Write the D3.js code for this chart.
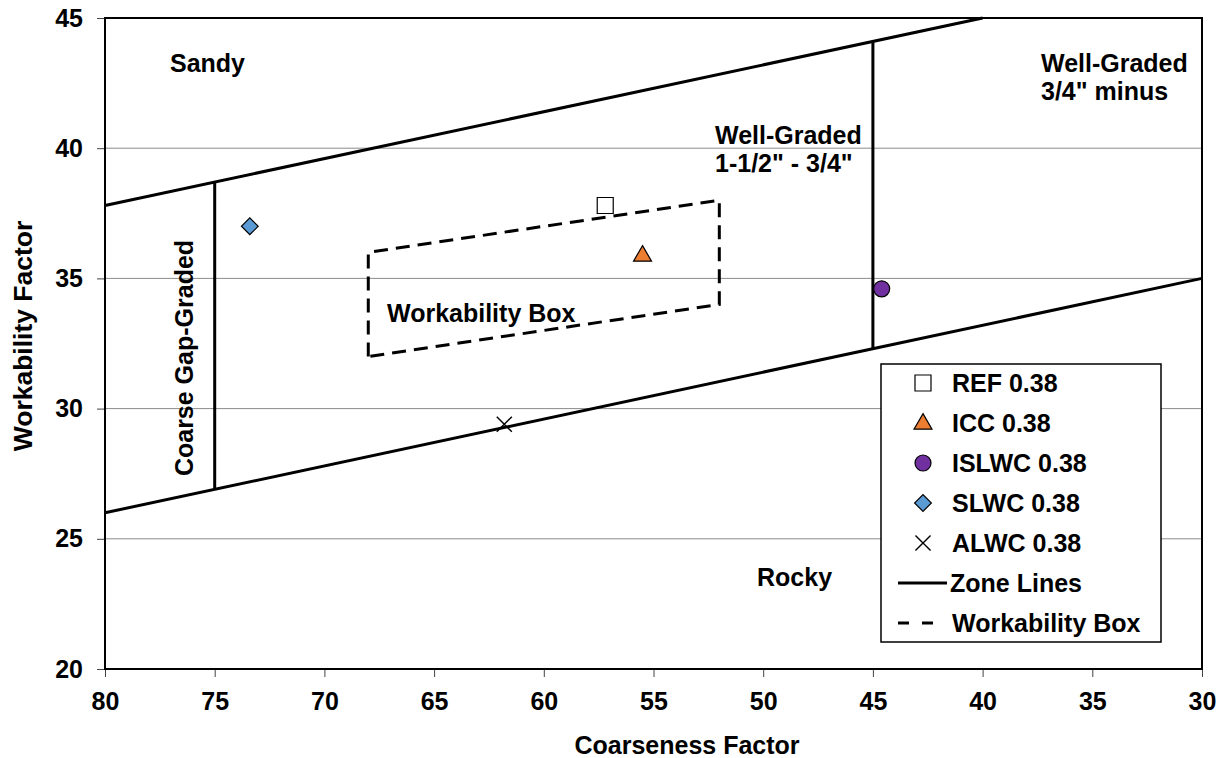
<!DOCTYPE html>
<html>
<head>
<meta charset="utf-8">
<script src="https://cdn.jsdelivr.net/npm/d3@7"></script>
<style>
  html, body { margin: 0; padding: 0; background: #fff; }
  svg text { font-family: "Liberation Sans", Arial, sans-serif; font-weight: bold; fill: #000; }
</style>
</head>
<body>
<svg id="chart" width="1222" height="758"></svg>
<script>
// Mixture points: coarseness factor (x) and workability factor (y)
const seriesNames = ["REF 0.38", "ICC 0.38", "ISLWC 0.38", "SLWC 0.38", "ALWC 0.38"];
const coarseness = [57.2, 55.5, 44.6, 73.4, 61.8];
const workability = [37.8, 35.9, 34.6, 37.0, 29.4];
const symbolKinds = ["square", "triangle", "circle", "diamond", "cross"];
const fills = ["#ffffff", "#ED7D31", "#7030A0", "#5B9BD5", "none"];

// Zone boundary lines
const upperZone = [[80, 37.8], [40, 45]];
const lowerZone = [[80, 26], [30, 35]];
const gapGradedLine = [[75, 26.9], [75, 38.7]];
const wellGradedLine = [[45, 32.3], [45, 44.1]];

// Workability box corners
const workBox = [[68, 32], [68, 36], [52, 38], [52, 34], [68, 32]];

const xTicks = [80, 75, 70, 65, 60, 55, 50, 45, 40, 35, 30];
const yTicks = [20, 25, 30, 35, 40, 45];
const gridValues = [25, 30, 35, 40];

const svg = d3.select("#chart");
const L = 105, T = 18, W = 1097, H = 651;

const x = d3.scaleLinear().domain([80, 30]).range([L, L + W]);
const y = d3.scaleLinear().domain([20, 45]).range([T + H, T]);

// Horizontal gridlines
svg.append("g").selectAll("line").data(gridValues).join("line")
  .attr("x1", L).attr("x2", L + W)
  .attr("y1", d => y(d)).attr("y2", d => y(d))
  .attr("stroke", "#8c8c8c").attr("stroke-width", 1);

// Axes
const xAxis = svg.append("g").attr("transform", `translate(0,${T + H})`)
  .call(d3.axisBottom(x).tickValues(xTicks).tickSize(8).tickPadding(14).tickFormat(d3.format("d")));
const yAxis = svg.append("g").attr("transform", `translate(${L},0)`)
  .call(d3.axisLeft(y).tickValues(yTicks).tickSize(8).tickPadding(14).tickFormat(d3.format("d")));
[xAxis, yAxis].forEach(a => {
  a.select(".domain").remove();
  a.selectAll(".tick line").attr("stroke", "#444").attr("stroke-width", 1);
  a.selectAll(".tick text").style("font-size", "25px").attr("fill", "#000");
});
xAxis.selectAll(".tick text").attr("dy", "0.75em");

// Plot border
svg.append("rect").attr("x", L).attr("y", T).attr("width", W).attr("height", H)
  .attr("fill", "none").attr("stroke", "#000").attr("stroke-width", 2);

const line = d3.line().x(d => x(d[0])).y(d => y(d[1]));

// Zone lines
[upperZone, lowerZone, gapGradedLine, wellGradedLine].forEach(pts => {
  svg.append("path").attr("d", line(pts))
    .attr("fill", "none").attr("stroke", "#000").attr("stroke-width", 3);
});

// Workability box
svg.append("path").attr("d", line(workBox))
  .attr("fill", "none").attr("stroke", "#000").attr("stroke-width", 3)
  .attr("stroke-dasharray", "14,8");

// Marker drawing
function drawMarker(g, kind, fill) {
  if (kind === "square") {
    g.append("path").attr("d", d3.symbol(d3.symbolSquare, 256)())
      .attr("fill", fill).attr("stroke", "#000").attr("stroke-width", 1.2);
  } else if (kind === "triangle") {
    g.append("path").attr("d", d3.symbol(d3.symbolTriangle, 140)())
      .attr("transform", "translate(0,1)")
      .attr("fill", fill).attr("stroke", "#000").attr("stroke-width", 1.2);
  } else if (kind === "circle") {
    g.append("path").attr("d", d3.symbol(d3.symbolCircle, 201)())
      .attr("fill", fill).attr("stroke", "#000").attr("stroke-width", 1.2);
  } else if (kind === "diamond") {
    g.append("path").attr("d", d3.symbol(d3.symbolSquare, 140)())
      .attr("transform", "rotate(45)")
      .attr("fill", fill).attr("stroke", "#000").attr("stroke-width", 1.2);
  } else if (kind === "cross") {
    g.append("path").attr("d", d3.symbol(d3.symbolTimes, 150)())
      .attr("fill", "none").attr("stroke", "#000").attr("stroke-width", 1.4);
  }
}

// Data points
seriesNames.forEach((name, i) => {
  const g = svg.append("g").attr("transform", `translate(${x(coarseness[i])},${y(workability[i])})`);
  drawMarker(g, symbolKinds[i], fills[i]);
});

// Zone labels
function label(txt, px, py, anchor = "start") {
  return svg.append("text").attr("x", px).attr("y", py)
    .attr("text-anchor", anchor).style("font-size", "25px").text(txt);
}
label("Sandy", 170, 72);
label("Well-Graded", 1041, 72);
label("3/4\" minus", 1041, 100);
label("Well-Graded", 715, 144);
label("1-1/2\" - 3/4\"", 715, 172);
label("Workability Box", 387, 322);
label("Rocky", 757, 586);
svg.append("text").attr("transform", `translate(193,358) rotate(-90)`)
  .attr("text-anchor", "middle").style("font-size", "25px").text("Coarse Gap-Graded");

// Axis titles
svg.append("text").attr("x", 687).attr("y", 754).attr("text-anchor", "middle")
  .style("font-size", "25px").text("Coarseness Factor");
svg.append("text").attr("transform", `translate(32,336) rotate(-90)`)
  .attr("text-anchor", "middle").style("font-size", "26.5px").text("Workability Factor");

// Legend
const lg = svg.append("g");
lg.append("rect").attr("x", 881).attr("y", 364).attr("width", 280).attr("height", 278)
  .attr("fill", "#fff").attr("stroke", "#000").attr("stroke-width", 1.5);
const legendRows = seriesNames.concat(["Zone Lines", "Workability Box"]);
legendRows.forEach((name, i) => {
  const cy = 383 + i * 40;
  if (i < seriesNames.length) {
    const g = lg.append("g").attr("transform", `translate(923,${cy})`);
    drawMarker(g, symbolKinds[i], fills[i]);
    lg.append("text").attr("x", 952).attr("y", cy).attr("dy", "0.35em")
      .style("font-size", "25px").text(name);
  } else {
    const dashed = name === "Workability Box";
    lg.append("line").attr("x1", 898).attr("x2", dashed ? 933 : 947).attr("y1", cy).attr("y2", cy)
      .attr("stroke", "#000").attr("stroke-width", 3)
      .attr("stroke-dasharray", dashed ? "11,13" : null);
    lg.append("text").attr("x", dashed ? 952 : 950).attr("y", cy).attr("dy", "0.35em")
      .style("font-size", "25px").text(name);
  }
});
</script>
</body>
</html>
